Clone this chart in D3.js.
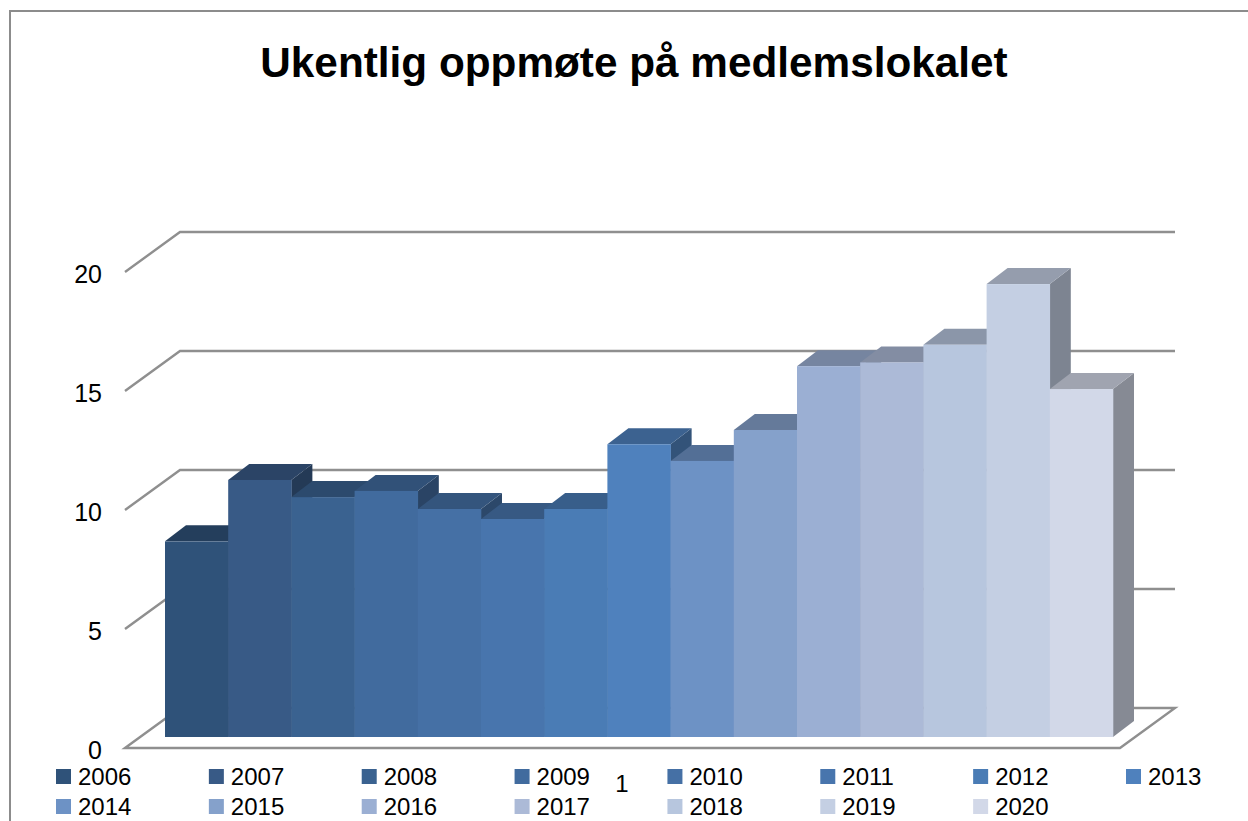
<!DOCTYPE html>
<html><head><meta charset="utf-8">
<script src="https://cdn.jsdelivr.net/npm/d3@7/dist/d3.min.js"></script>
<style>html,body{margin:0;padding:0;background:#fff}svg{display:block}text{font-family:"Liberation Sans",Arial,sans-serif;fill:#000}</style>
</head><body><div id="chart"></div>
<script>
const title = "Ukentlig oppmøte på medlemslokalet";
const years = ["2006","2007","2008","2009","2010","2011","2012","2013","2014","2015","2016","2017","2018","2019","2020"];
const values = [8.22,10.8,10.08,10.34,9.58,9.16,9.58,12.3,11.6,12.9,15.58,15.74,16.48,19.03,14.62];
const colors = ["#2F5279","#385A86","#3A6290","#416B9E","#4570A5","#4875AD","#4A7CB5","#4F81BD","#6D92C5","#85A1CB","#9BAFD3","#ACBAD7","#B7C6DE","#C4CFE3","#D2D8E8"];
const yTicks = [0,5,10,15,20];
const categoryLabel = "1";

const W = 1248, H = 821;
const svg = d3.select("#chart").append("svg").attr("width",W).attr("height",H);

// frame: left and top edges only, the right side is cropped away
svg.append("path").attr("d",`M10,${H} V11 H${W}`).attr("fill","none").attr("stroke","#8c8c8c").attr("stroke-width",2);

svg.append("text").attr("x",634).attr("y",77).attr("text-anchor","middle")
  .attr("font-size",42.3).attr("font-weight",700).text(title);

const y = d3.scaleLinear().domain([0,20]).range([748,272]);
const frontLeft = 125, frontRight = 1120, depthX = 55, depthY = -40;
const grid = "#8f8f8f";
const gridG = svg.append("g").attr("fill","none").attr("stroke",grid).attr("stroke-width",2.4);
yTicks.forEach(t=>{
  const yy = y(t);
  if(t===0){
    gridG.append("path").attr("d",`M${frontLeft},${yy} L${frontLeft+depthX},${yy+depthY} H${frontRight+depthX} L${frontRight},${yy} Z`);
  } else {
    gridG.append("path").attr("d",`M${frontLeft},${yy} L${frontLeft+depthX},${yy+depthY} H${frontRight+depthX}`);
  }
});

// axis labels
const axis = d3.axisLeft(y).tickValues(yTicks).tickSize(0).tickPadding(0);
const axG = svg.append("g").attr("transform","translate(102,2)").call(axis);
axG.select(".domain").remove();
axG.selectAll("text").attr("font-size",25).attr("fill","#000").style("font-family",'"Liberation Sans",Arial,sans-serif').attr("dy","0.32em");

// bars
const x = d3.scaleBand().domain(years).range([165,1113]).paddingInner(0).paddingOuter(0);
const bx = 21, by = -16, baseShift = -11;
const shade = (c,k)=>{const r=d3.rgb(c);return d3.rgb(r.r*k,r.g*k,r.b*k).formatHex();};
const bars = svg.append("g").selectAll("g").data(years).join("g");
bars.each(function(yr,i){
  const g = d3.select(this);
  const x0 = x(yr), x1 = x0 + x.bandwidth();
  const top = y(values[i]) + baseShift, bot = y(0) + baseShift;
  g.append("path").attr("d",`M${x1},${bot} L${x1+bx},${bot+by} V${top+by} L${x1},${top} Z`).attr("fill",shade(colors[i],0.64));
  g.append("path").attr("d",`M${x0},${top} L${x0+bx},${top+by} H${x1+bx} L${x1},${top} Z`).attr("fill",shade(colors[i],0.76));
  g.append("rect").attr("x",x0).attr("y",top).attr("width",x.bandwidth()+0.3).attr("height",bot-top).attr("fill",colors[i]);
});

// legend
const legX = d3.scalePoint().domain(d3.range(8)).range([56,1126]);
const leg = svg.append("g").selectAll("g").data(years).join("g")
  .attr("transform",(d,i)=>`translate(${legX(i%8)},${i<8?769:799})`);
leg.append("rect").attr("width",15).attr("height",15).attr("fill",(d,i)=>colors[i]);
leg.append("text").attr("x",22).attr("y",16).attr("font-size",24).text(d=>d);

svg.append("text").attr("x",622).attr("y",792).attr("text-anchor","middle").attr("font-size",24).text(categoryLabel);
</script></body></html>
